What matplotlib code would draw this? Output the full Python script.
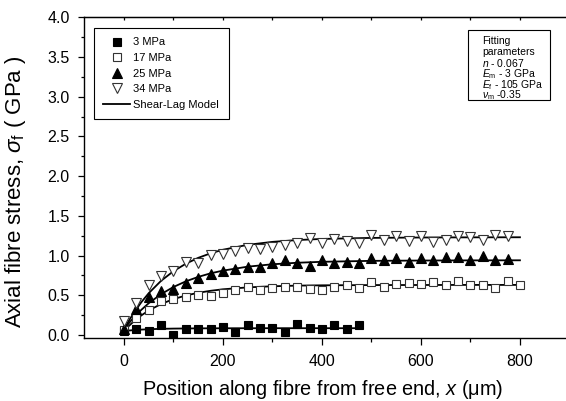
import numpy as np
import matplotlib
matplotlib.use('Agg')
import matplotlib.pyplot as plt
from matplotlib.patches import Rectangle

plt.rcParams['font.family'] = 'Liberation Sans'
plt.rcParams['mathtext.fontset'] = 'custom'
plt.rcParams['mathtext.rm'] = 'Liberation Sans'
plt.rcParams['mathtext.it'] = 'Liberation Sans:italic'

# Measured fibre stress at 25 um steps along the fibre
x_3 = np.arange(0, 500, 25)
s_3 = [0.05, 0.08, 0.05, 0.12, 0.00, 0.07, 0.07, 0.08, 0.10, 0.04,
       0.13, 0.09, 0.09, 0.04, 0.14, 0.09, 0.08, 0.13, 0.07, 0.12]

x_17 = np.arange(0, 825, 25)
s_17 = [0.06, 0.21, 0.32, 0.43, 0.45, 0.48, 0.50, 0.49, 0.53, 0.57,
        0.61, 0.56, 0.59, 0.61, 0.61, 0.58, 0.57, 0.61, 0.63, 0.59,
        0.67, 0.61, 0.64, 0.66, 0.64, 0.67, 0.63, 0.68, 0.63, 0.63,
        0.59, 0.68, 0.63]

x_25 = np.arange(0, 800, 25)
s_25 = [0.08, 0.33, 0.48, 0.55, 0.58, 0.65, 0.72, 0.77, 0.81, 0.83,
        0.86, 0.85, 0.90, 0.94, 0.90, 0.87, 0.95, 0.90, 0.92, 0.90,
        0.97, 0.94, 0.97, 0.92, 0.97, 0.95, 0.98, 0.98, 0.95, 1.00,
        0.94, 0.96]

x_34 = np.arange(0, 800, 25)
s_34 = [0.17, 0.40, 0.63, 0.74, 0.81, 0.92, 0.90, 1.01, 1.02, 1.06,
        1.09, 1.08, 1.11, 1.13, 1.16, 1.22, 1.16, 1.21, 1.18, 1.16,
        1.26, 1.19, 1.24, 1.18, 1.24, 1.17, 1.20, 1.25, 1.23, 1.19,
        1.26, 1.24]

# Shear-lag model curves
fit_x = [0, 10, 20, 35, 50, 75, 100, 125, 150, 175, 200, 250, 300, 350,
         400, 500, 600, 700, 800]
fit_17 = [0.050, 0.114, 0.172, 0.246, 0.308, 0.390, 0.451, 0.497, 0.531,
          0.556, 0.575, 0.599, 0.613, 0.621, 0.625, 0.628, 0.629, 0.630, 0.630]
fit_25 = [0.070, 0.149, 0.221, 0.316, 0.400, 0.514, 0.604, 0.675, 0.731,
          0.776, 0.810, 0.860, 0.890, 0.909, 0.921, 0.933, 0.937, 0.939, 0.940]
fit_34 = [0.070, 0.180, 0.280, 0.412, 0.526, 0.682, 0.803, 0.897, 0.971,
          1.028, 1.073, 1.135, 1.172, 1.195, 1.209, 1.222, 1.227, 1.229, 1.230]
fit_x3 = [0, 25, 50, 75, 100, 150, 200, 300, 400, 475]
fit_3 = [0.050, 0.064, 0.072, 0.077, 0.080, 0.083, 0.084, 0.085, 0.085, 0.085]

params = ['Fitting', 'parameters', r'$n$ - 0.067', r'$E_\mathrm{m}$ - 3 GPa',
          r'$E_\mathrm{f}$ - 105 GPa', r'$\nu_\mathrm{m}$ -0.35']

fig = plt.figure(figsize=(5.66, 4.01), dpi=100)
ax = fig.add_axes([0.1491, 0.1564, 0.857, 0.8005])

lw = 1.3
ax.plot(fit_x3, fit_3, color='black', lw=lw, zorder=2)
ax.plot(fit_x, fit_17, color='black', lw=lw, zorder=2)
ax.plot(fit_x, fit_25, color='black', lw=lw, zorder=2)
ax.plot(fit_x, fit_34, color='black', lw=lw, zorder=2)

ax.plot(x_3, s_3, 's', ms=5.5, mfc='black', mec='black', mew=0.8, ls='none', label='3 MPa', zorder=3)
ax.plot(x_17, s_17, 's', ms=5.5, mfc='white', mec='#333333', mew=0.8, ls='none', label='17 MPa', zorder=3)
ax.plot(x_25, s_25, '^', ms=7, mfc='black', mec='black', mew=0.8, ls='none', label='25 MPa', zorder=3)
ax.plot(x_34, s_34, 'v', ms=7, mfc='white', mec='#333333', mew=0.8, ls='none', label='34 MPa', zorder=3)
ax.plot([], [], color='black', lw=lw, label='Shear-Lag Model')

ax.set_xlim(-80, 900)
ax.set_ylim(-0.042, 4.0)
ax.set_xticks([0, 200, 400, 600, 800])
ax.set_xticks([100, 300, 500, 700], minor=True)
ax.set_yticks(np.arange(0, 4.01, 0.5))
ax.set_yticks(np.arange(0.25, 4.0, 0.5), minor=True)
ax.yaxis.set_major_formatter(matplotlib.ticker.FormatStrFormatter('%.1f'))

ax.tick_params(axis='both', which='major', labelsize=11.5, width=0.9)
ax.tick_params(axis='x', which='major', direction='out', length=5, pad=6)
ax.tick_params(axis='x', which='minor', direction='out', length=3, width=0.9)
ax.tick_params(axis='y', which='major', direction='out', length=4.5, pad=6)
ax.tick_params(axis='y', which='minor', direction='out', length=2.5, width=0.9)
for sp in ax.spines.values():
    sp.set_linewidth(1.0)

# small inward ticks along the top edge
top = ax.secondary_xaxis('top')
top.set_xticks([0, 200, 400, 600, 800])
top.set_xticks([100, 300, 500, 700], minor=True)
top.tick_params(which='both', direction='in', length=2, width=0.9, labeltop=False)

ax.set_xlabel('Position along fibre from free end, $x$ (\u03bcm)', fontsize=14.3)
ax.xaxis.set_label_coords(0.491, -0.124)
ax.set_ylabel(r'Axial fibre stress, $\sigma_\mathrm{f}$ ( GPa )', fontsize=16)
ax.yaxis.set_label_coords(-0.143, 0.456)
ax.yaxis.label.set_va('center')

leg = ax.legend(loc='upper left', bbox_to_anchor=(0.0198, 0.9667), borderaxespad=0,
                fontsize=8, numpoints=1, handlelength=2.4, handletextpad=0.3,
                labelspacing=0.5, borderpad=0.85, fancybox=False, framealpha=1)
leg.get_frame().set_edgecolor('black')
leg.get_frame().set_linewidth(0.8)

# box with model parameters
ax.add_patch(Rectangle((0.791, (338.3 - 100) / 321), 0.169, 69.5 / 321,
                       transform=ax.transAxes, fill=False, edgecolor='black', lw=0.8))
for i, line in enumerate(params):
    ax.text(0.8202, (338.3 - 41.5 - 10.8 * i) / 321, line, transform=ax.transAxes,
            fontsize=7.5, va='center', ha='left')

fig.savefig('out.png', dpi=100)
